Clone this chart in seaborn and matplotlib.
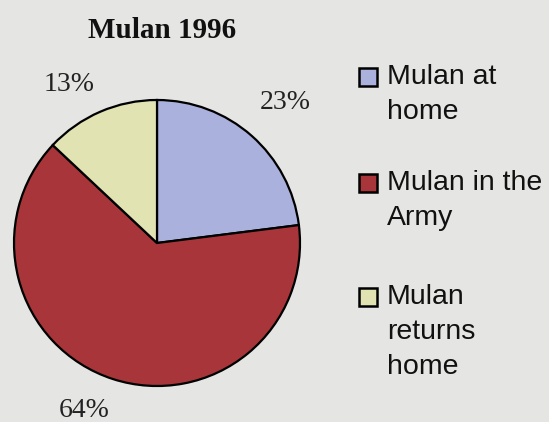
import numpy as np
import matplotlib.pyplot as plt
from matplotlib.patches import Rectangle
import seaborn as sns

categories = ['Mulan at\nhome', 'Mulan in the\nArmy', 'Mulan\nreturns\nhome']
shares = [23, 64, 13]
colors = ['#a9b1dc', '#a8353a', '#e1e3b3']
title = 'Mulan 1996'

bg = '#e5e6e3'
sns.set_style('white', {'axes.facecolor': bg, 'figure.facecolor': bg})

W, H = 549, 422
fig = plt.figure(figsize=(W / 100, H / 100), dpi=100)

# pie centred at (157, 243) px, radius 143 px
R = 143
lim = 1.6
cx, cy = 157, H - 243
half = lim * R
ax = fig.add_axes([(cx - half) / W, (cy - half) / H, 2 * half / W, 2 * half / H])
wedges, texts, autotexts = ax.pie(
    shares, colors=colors, startangle=90, counterclock=False,
    autopct='%d%%', pctdistance=1.3,
    wedgeprops={'edgecolor': 'black', 'linewidth': 1.6},
    textprops={'family': 'Liberation Serif', 'fontsize': 20, 'color': '#222222'})

# nudge the percentage labels the way the original has them
label_dist = [1.33, 1.28, 1.27]
angle_shift = [-1, -5.5, 5.5]
for w, t, d, a in zip(wedges, autotexts, label_dist, angle_shift):
    th = np.deg2rad((w.theta1 + w.theta2) / 2 + a)
    t.set_position((d * np.cos(th), d * np.sin(th)))
    t.set_clip_on(False)

ax.set_xlim(-lim, lim)
ax.set_ylim(-lim, lim)
ax.set_aspect('equal')
ax.axis('off')

fig.text(162 / W, 1 - 31 / H, title, ha='center', va='center',
         family='Liberation Serif', fontweight='bold', fontsize=21, color='#111111')

# legend drawn by hand so the swatch sits on the first line
ys = [77, 183, 297]
for lab, col, y in zip(categories, colors, ys):
    s = 18
    fig.patches.append(Rectangle((359 / W, (H - y - s / 2) / H), s / W, s / H,
                                 transform=fig.transFigure, facecolor=col,
                                 edgecolor='black', linewidth=1.8))
    fig.text(387 / W, 1 - (y - 13) / H, lab, ha='left', va='top',
             family='Liberation Sans', fontsize=20.5, linespacing=1.45, color='#111111')

plt.savefig('out.png', dpi=100, facecolor=bg)
